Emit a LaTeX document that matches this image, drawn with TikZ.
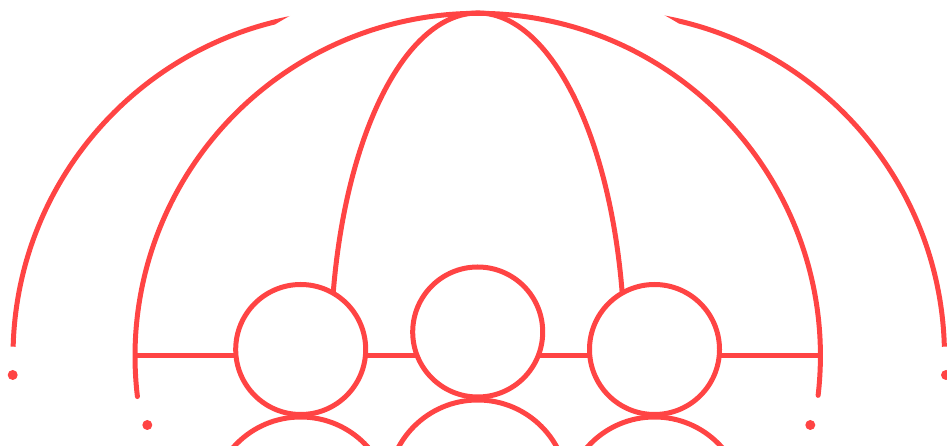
\documentclass[tikz,border=0pt]{standalone}
\definecolor{ink}{RGB}{255,68,68}
\begin{document}
\begin{tikzpicture}[x=1pt,y=1pt,
  stroke/.style={draw=ink,line width=5pt},
  headc/.style={stroke,fill=white,circle,minimum size=130pt,inner sep=0pt,outer sep=0pt},
  dotc/.style={fill=ink}]
\useasboundingbox (0,0) rectangle (947,446);
\clip (0,0) rectangle (947,446);
\coordinate (g) at (477.7,90);
% outer arcs, cut by a ring around the globe
\begin{scope}[even odd rule]
  \clip (-10,-10) rectangle (960,460) (g) circle (388.5);
  \draw[stroke] ([shift={(357,90)}]95:344) arc[start angle=95,end angle=178.45,radius=344];
  \draw[stroke] ([shift={(600.5,90)}]1.55:344) arc[start angle=1.55,end angle=85,radius=344];
\end{scope}
% globe
\draw[stroke,line cap=round] ([shift={(477.7,90)}]-6.6:342.7) arc[start angle=-6.6,end angle=186.8,radius=342.7];
% meridian
\draw[stroke] ([shift={(477.7,90)}]8:147 and 343) arc[start angle=8,end angle=172,x radius=147,y radius=343];
% horizontal line
\coordinate (gl) at (135,90);
\coordinate (gr) at (820.4,90);
\draw[stroke] (gl) -- (gr);
% bodies
\draw[stroke] (300.7,-61) circle (90);
\draw[stroke] (477.7,-44) circle (90);
\draw[stroke] (654.5,-61) circle (90);
% heads
\node[headc] (h1) at (300.7,96.5) {};
\node[headc] (h2) at (477.7,114) {};
\node[headc] (h3) at (654.5,96.5) {};
% dots
\fill[dotc] (12.7,71) circle (5);
\fill[dotc] (147.3,21) circle (5);
\fill[dotc] (810.3,21) circle (5);
\fill[dotc] (946,71) circle (5);
\end{tikzpicture}
\end{document}
